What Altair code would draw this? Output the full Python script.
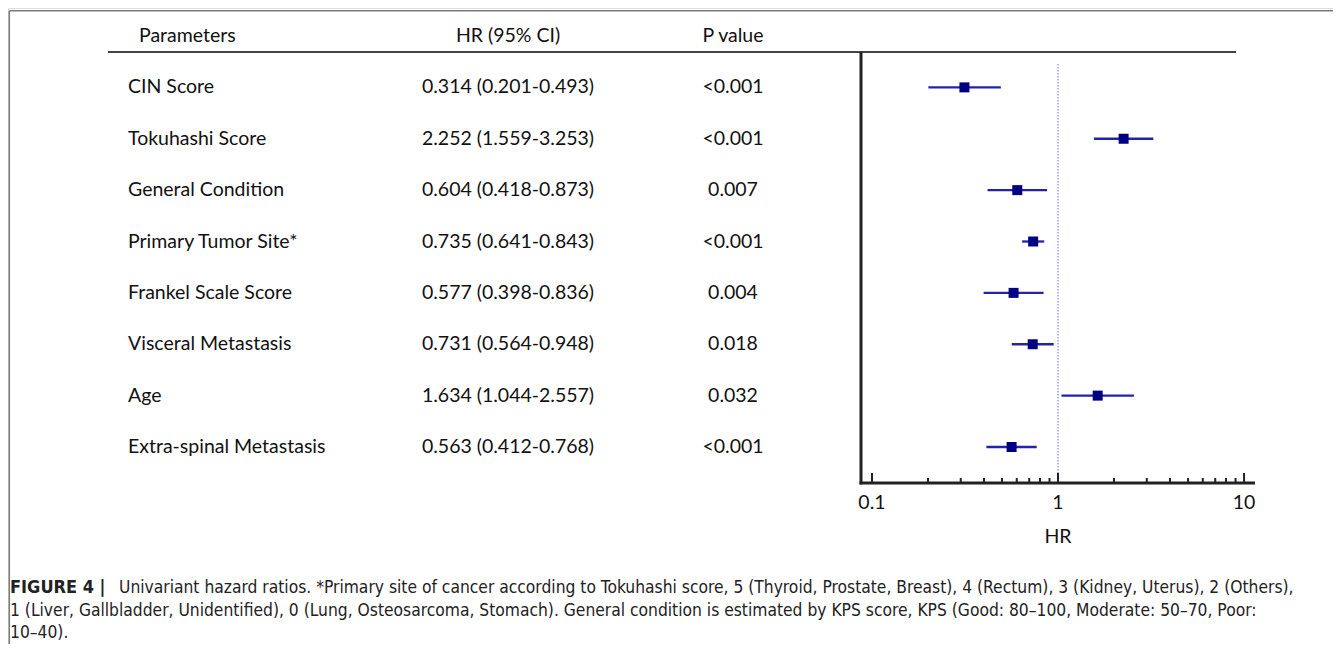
import altair as alt
import pandas as pd

# ---- data ----
params = ["CIN Score", "Tokuhashi Score", "General Condition", "Primary Tumor Site*",
          "Frankel Scale Score", " Visceral Metastasis", "Age", "Extra-spinal Metastasis"]
hr = [0.314, 2.252, 0.604, 0.735, 0.577, 0.731, 1.634, 0.563]
lo = [0.201, 1.559, 0.418, 0.641, 0.398, 0.564, 1.044, 0.412]
hi = [0.493, 3.253, 0.873, 0.843, 0.836, 0.948, 2.557, 0.768]
hr_text = ["0.314 (0.201-0.493)", "2.252 (1.559-3.253)", "0.604 (0.418-0.873)",
           "0.735 (0.641-0.843)", "0.577 (0.398-0.836)", "0.731 (0.564-0.948)",
           "1.634 (1.044-2.557)", "0.563 (0.412-0.768)"]
pvals = ["<0.001", "<0.001", "0.007", "<0.001", "0.004", "0.018", "0.032", "<0.001"]
headers = ["Parameters", "HR (95% CI)", "P value"]
major_ticks = [0.1, 1, 10]
major_labels = ["0.1", "1", "10"]
minor_ticks = [0.2, 0.3, 0.4, 0.5, 0.6, 0.7, 0.8, 0.9, 2, 3, 4, 5, 6, 7, 8, 9]
ref_value = [1]
axis_title = "HR"
caption_bold = "FIGURE 4 |"
caption_lines = [
    "Univariant hazard ratios. *Primary site of cancer according to Tokuhashi score, 5 (Thyroid, Prostate, Breast), 4 (Rectum), 3 (Kidney, Uterus), 2 (Others),",
    "1 (Liver, Gallbladder, Unidentified), 0 (Lung, Osteosarcoma, Stomach). General condition is estimated by KPS score, KPS (Good: 80\u2013100, Moderate: 50\u201370, Poor:",
    "10\u201340).",
]

df = pd.DataFrame({"row": list(range(len(params))), "param": params, "hr": hr,
                   "lo": lo, "hi": hi, "hrt": hr_text, "p": pvals})
hdr = pd.DataFrame({"row": [-1], "h0": [headers[0]], "h1": [headers[1]], "h2": [headers[2]]})

W, H = 1325, 636
AX_Y = 475
X0, X1 = 853, 1247
TFONT = "Lato"
TSIZE = 19.5
CFONT = "Liberation Sans Narrow, DejaVu Sans Condensed, Liberation Sans"
CSIZE = 17.3

xscale = alt.Scale(type="log", domain=[0.0873, 11.45], range=[X0, X1])
yscale = alt.Scale(domain=[-1, 7], range=[28, 439])


def Y():
    return alt.Y("row:Q", scale=yscale, axis=None)


def XS(field):
    return alt.X(field, scale=xscale, axis=None)


one = pd.DataFrame({"a": [0]})

# frame lines
frame_top = alt.Chart(one).mark_rule(color="#7a7a7a", strokeWidth=1.5).encode(
    x=alt.value(1.3), x2=alt.value(W), y=alt.value(2.7))
frame_left = alt.Chart(one).mark_rule(color="#7a7a7a", strokeWidth=1.5).encode(
    x=alt.value(1.3), y=alt.value(2.7), y2=alt.value(H))
top_rule = alt.Chart(one).mark_rule(color="#444444", strokeWidth=2.2).encode(
    x=alt.value(100), x2=alt.value(1228), y=alt.value(44))
y_line = alt.Chart(one).mark_rule(color="#222222", strokeWidth=3).encode(
    x=alt.value(X0), y=alt.value(44), y2=alt.value(AX_Y + 1.5))
x_line = alt.Chart(one).mark_rule(color="#222222", strokeWidth=3).encode(
    x=alt.value(X0 - 1.5), x2=alt.value(X1), y=alt.value(AX_Y))


def txt(align):
    return dict(font=TFONT, fontSize=TSIZE, color="#111111", baseline="middle", align=align)


# header texts
hb = alt.Chart(hdr)
h0 = hb.mark_text(**txt("left")).encode(x=alt.value(131), y=Y(), text="h0:N")
h1 = hb.mark_text(**txt("center")).encode(x=alt.value(500), y=Y(), text="h1:N")
h2 = hb.mark_text(**txt("center")).encode(x=alt.value(725), y=Y(), text="h2:N")

base = alt.Chart(df)
t_param = base.mark_text(**txt("left")).encode(x=alt.value(120), y=Y(), text="param:N")
t_hr = base.mark_text(**txt("center")).encode(x=alt.value(500), y=Y(), text="hrt:N")
t_p = base.mark_text(**txt("center")).encode(x=alt.value(725), y=Y(), text="p:N")

# forest
ci = base.mark_rule(color="#2323a8", strokeWidth=2.3).encode(x=XS("lo:Q"), x2="hi:Q", y=Y())
pts = base.mark_square(color="#000080", size=100, opacity=1).encode(x=XS("hr:Q"), y=Y())

ref = alt.Chart(pd.DataFrame({"v": ref_value})).mark_rule(
    color="#6a6ae6", strokeWidth=1, strokeDash=[1.5, 1.5]).encode(
    x=XS("v:Q"), y=alt.value(56), y2=alt.value(AX_Y))

maj = alt.Chart(pd.DataFrame({"v": major_ticks})).mark_rule(color="#222222", strokeWidth=2).encode(
    x=XS("v:Q"), y=alt.value(AX_Y), y2=alt.value(AX_Y - 10))
mnr = alt.Chart(pd.DataFrame({"v": minor_ticks})).mark_rule(color="#222222", strokeWidth=2).encode(
    x=XS("v:Q"), y=alt.value(AX_Y), y2=alt.value(AX_Y - 5))
labs = alt.Chart(pd.DataFrame({"v": major_ticks, "lab": major_labels})).mark_text(
    **txt("center")).encode(x=XS("v:Q"), y=alt.value(495), text="lab:N")
title = alt.Chart(pd.DataFrame({"v": ref_value, "lab": [axis_title]})).mark_text(
    **txt("center")).encode(x=XS("v:Q"), y=alt.value(529), text="lab:N")

# caption
cap_b = alt.Chart(pd.DataFrame({"t": [caption_bold]})).mark_text(
    font=CFONT, fontSize=18, fontWeight="bold", color="#222222", align="left", baseline="middle").encode(
    x=alt.value(2), y=alt.value(580), text="t:N")
cap_layers = []
cap_pos = [(111, 580), (2, 603), (2, 625)]
for line, (cx, cy) in zip(caption_lines, cap_pos):
    cap_layers.append(alt.Chart(pd.DataFrame({"t": [line]})).mark_text(
        font=CFONT, fontSize=CSIZE, color="#222222", align="left", baseline="middle").encode(
        x=alt.value(cx), y=alt.value(cy), text="t:N"))

chart = alt.layer(
    frame_top, frame_left, top_rule, y_line, x_line, ref, maj, mnr, ci, pts, labs, title,
    h0, h1, h2, t_param, t_hr, t_p, cap_b, *cap_layers
).properties(
    width=W, height=H, autosize=alt.AutoSizeParams(type="none"), padding=0
).configure_view(stroke=None).configure(background="white")

chart.save("out.html", embed_options={"renderer": "svg", "actions": False})
